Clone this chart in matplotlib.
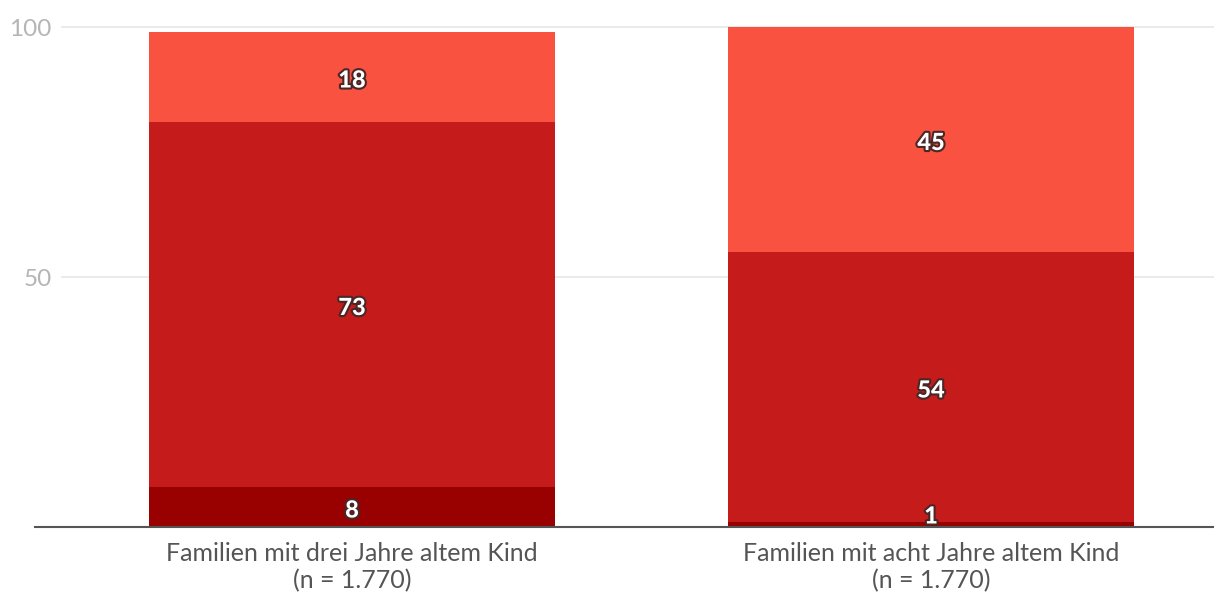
import matplotlib
matplotlib.use("Agg")
import matplotlib.pyplot as plt
import matplotlib.patheffects as pe

plt.rcParams['font.family'] = ['Lato', 'DejaVu Sans']

categories = ["Familien mit drei Jahre altem Kind\n(n = 1.770)",
              "Familien mit acht Jahre altem Kind\n(n = 1.770)"]
seg_bottom = [8, 1]   # dunkelrot
seg_middle = [73, 54] # rot
seg_top = [18, 45]    # hellrot
colors = ["#990000", "#C61B1B", "#F95240"]

fig = plt.figure(figsize=(12.14, 5.95), dpi=100)
ax = fig.add_axes([35 / 1214, 68 / 595, 1179 / 1214, 505 / 595])

x = [0, 1]
width = 0.701
base = [0, 0]
for vals, col in zip([seg_bottom, seg_middle, seg_top], colors):
    ax.bar(x, vals, width, bottom=base, color=col, zorder=2)
    for xi, b, v in zip(x, base, vals):
        y = max(b + v / 2, 2.8) - 0.6
        ax.text(xi, y, str(v), ha='center', va='center', color='white',
                fontsize=17, fontweight='black', zorder=4,
                path_effects=[pe.withStroke(linewidth=3, foreground='#4a2626')])
    base = [b + v for b, v in zip(base, vals)]

ax.set_xlim(-0.5475, 1.4886)
ax.set_ylim(0, 101)

for gy in [50, 100]:
    ax.axhline(gy, xmin=27 / 1179, color='#e6e6e6', lw=1.2, zorder=1)

ax.set_yticks([50, 100])
ax.set_yticklabels(["50", "100"], color='#b5b5b5', fontsize=17.5)
ax.tick_params(axis='y', length=0, pad=-12)
for lab in ax.get_yticklabels():
    lab.set_ha('right')

ax.set_xticks(x)
ax.set_xticklabels(categories, color='#555555', fontsize=18, linespacing=1.18)
ax.tick_params(axis='x', length=0, pad=11)

for s in ['top', 'right', 'left']:
    ax.spines[s].set_visible(False)
ax.spines['bottom'].set_color('#555555')
ax.spines['bottom'].set_linewidth(1.5)
ax.spines['bottom'].set_zorder(3)

fig.savefig("out.png", dpi=100)
